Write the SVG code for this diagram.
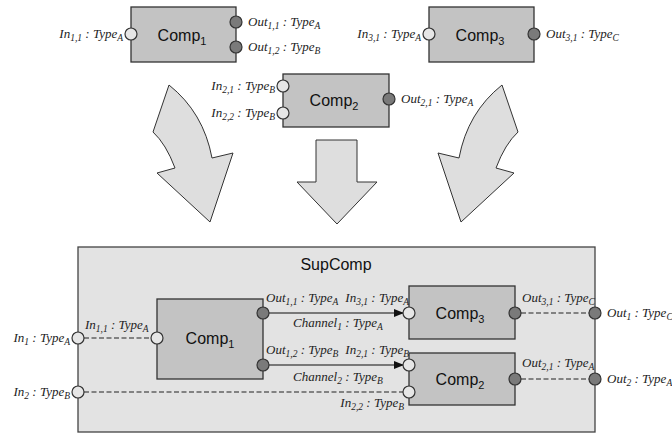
<svg xmlns="http://www.w3.org/2000/svg" width="672" height="435" viewBox="0 0 672 435">
<style>
.comp{fill:#c3c3c3;stroke:#333;stroke-width:1.3}
.sup{fill:#e3e3e3;stroke:#444;stroke-width:1.3}
.pin{fill:#e6e6e6;stroke:#333;stroke-width:1.2}
.pout{fill:#7a7a7a;stroke:#333;stroke-width:1.2}
.arrow{fill:#dedede;stroke:#333;stroke-width:1}
.lbl{font-family:"Liberation Serif",serif;font-style:italic;font-size:13px;fill:#222}
.name{font-family:"Liberation Sans",sans-serif;font-size:16px;fill:#111}
.sub{font-size:9.5px}
.nsub{font-size:11px}
.dash{stroke:#222;stroke-width:1.1;stroke-dasharray:5,2.5;fill:none}
.solid{stroke:#555;stroke-width:1.6;fill:none}
</style>
<defs>
<marker id="ah" markerWidth="10" markerHeight="8" refX="9" refY="4" orient="auto" markerUnits="userSpaceOnUse">
<path d="M0,0 L10,4 L0,8 Z" fill="#111"/>
</marker>
</defs>

<g id="big-arrows">
<path class="arrow" d="M169,85 Q203.5,112.5 212,158 L233,153 L210,222 L157,173 L175,168 Q166,144 153,132 Z"/>
<path class="arrow" transform="translate(671,0) scale(-1,1)" d="M169,85 Q203.5,112.5 212,158 L233,153 L210,222 L157,173 L175,168 Q166,144 153,132 Z"/>
<path class="arrow" d="M316,140 L357,140 L357,182 L377,182 L337,224 L297,182 L316,182 Z"/>
</g>

<g id="top-comp1">
<rect class="comp" x="131" y="7" width="105" height="55"/>
<text class="name" x="182" y="41" text-anchor="middle">Comp<tspan class="nsub" dy="4">1</tspan></text>
<circle class="pin" cx="131" cy="34" r="6"/>
<circle class="pout" cx="236" cy="22" r="6"/>
<circle class="pout" cx="236" cy="47" r="6"/>
<text class="lbl" x="123" y="38" text-anchor="end">In<tspan class="sub" dy="3">1,1</tspan><tspan dy="-3"> : Type</tspan><tspan class="sub" dy="3">A</tspan></text>
<text class="lbl" x="248" y="26">Out<tspan class="sub" dy="3">1,1</tspan><tspan dy="-3"> : Type</tspan><tspan class="sub" dy="3">A</tspan></text>
<text class="lbl" x="248" y="51">Out<tspan class="sub" dy="3">1,2</tspan><tspan dy="-3"> : Type</tspan><tspan class="sub" dy="3">B</tspan></text>
</g>

<g id="top-comp3">
<rect class="comp" x="429" y="7" width="105" height="55"/>
<text class="name" x="480" y="41" text-anchor="middle">Comp<tspan class="nsub" dy="4">3</tspan></text>
<circle class="pin" cx="429" cy="34" r="6"/>
<circle class="pout" cx="534" cy="34" r="6"/>
<text class="lbl" x="421" y="38" text-anchor="end">In<tspan class="sub" dy="3">3,1</tspan><tspan dy="-3"> : Type</tspan><tspan class="sub" dy="3">A</tspan></text>
<text class="lbl" x="546" y="38">Out<tspan class="sub" dy="3">3,1</tspan><tspan dy="-3"> : Type</tspan><tspan class="sub" dy="3">C</tspan></text>
</g>

<g id="top-comp2">
<rect class="comp" x="283" y="74" width="106" height="53"/>
<text class="name" x="334" y="106" text-anchor="middle">Comp<tspan class="nsub" dy="4">2</tspan></text>
<circle class="pin" cx="283" cy="86" r="6"/>
<circle class="pin" cx="283" cy="113" r="6"/>
<circle class="pout" cx="389" cy="99" r="6"/>
<text class="lbl" x="275" y="90" text-anchor="end">In<tspan class="sub" dy="3">2,1</tspan><tspan dy="-3"> : Type</tspan><tspan class="sub" dy="3">B</tspan></text>
<text class="lbl" x="275" y="117" text-anchor="end">In<tspan class="sub" dy="3">2,2</tspan><tspan dy="-3"> : Type</tspan><tspan class="sub" dy="3">B</tspan></text>
<text class="lbl" x="401" y="103">Out<tspan class="sub" dy="3">2,1</tspan><tspan dy="-3"> : Type</tspan><tspan class="sub" dy="3">A</tspan></text>
</g>

<g id="supcomp">
<rect class="sup" x="78" y="247" width="517" height="185"/>
<text class="name" x="336" y="270" text-anchor="middle">SupComp</text>
</g>

<g id="connectors">
<line class="dash" x1="84" y1="338" x2="151" y2="338"/>
<line class="dash" x1="84" y1="392" x2="403" y2="392"/>
<line class="solid" x1="269" y1="313" x2="403" y2="313" marker-end="url(#ah)"/>
<line class="solid" x1="269" y1="365" x2="403" y2="365" marker-end="url(#ah)"/>
<line class="dash" x1="521" y1="313" x2="589" y2="313"/>
<line class="dash" x1="521" y1="379" x2="589" y2="379"/>
<text class="lbl" x="338" y="327" text-anchor="middle">Channel<tspan class="sub" dy="3">1</tspan><tspan dy="-3"> : Type</tspan><tspan class="sub" dy="3">A</tspan></text>
<text class="lbl" x="338" y="381" text-anchor="middle">Channel<tspan class="sub" dy="3">2</tspan><tspan dy="-3"> : Type</tspan><tspan class="sub" dy="3">B</tspan></text>
</g>

<g id="sup-ports">
<circle class="pin" cx="78" cy="338" r="6"/>
<circle class="pin" cx="78" cy="392" r="6"/>
<circle class="pout" cx="595" cy="313" r="6"/>
<circle class="pout" cx="595" cy="379" r="6"/>
<text class="lbl" x="70" y="342" text-anchor="end">In<tspan class="sub" dy="3">1</tspan><tspan dy="-3"> : Type</tspan><tspan class="sub" dy="3">A</tspan></text>
<text class="lbl" x="70" y="396" text-anchor="end">In<tspan class="sub" dy="3">2</tspan><tspan dy="-3"> : Type</tspan><tspan class="sub" dy="3">B</tspan></text>
<text class="lbl" x="607" y="317">Out<tspan class="sub" dy="3">1</tspan><tspan dy="-3"> : Type</tspan><tspan class="sub" dy="3">C</tspan></text>
<text class="lbl" x="607" y="383">Out<tspan class="sub" dy="3">2</tspan><tspan dy="-3"> : Type</tspan><tspan class="sub" dy="3">A</tspan></text>
</g>

<g id="inner-comp1">
<rect class="comp" x="157" y="299" width="106" height="80"/>
<text class="name" x="210" y="344" text-anchor="middle">Comp<tspan class="nsub" dy="4">1</tspan></text>
<circle class="pin" cx="157" cy="338" r="6"/>
<circle class="pout" cx="263" cy="313" r="6"/>
<circle class="pout" cx="263" cy="365" r="6"/>
<text class="lbl" x="85" y="329">In<tspan class="sub" dy="3">1,1</tspan><tspan dy="-3"> : Type</tspan><tspan class="sub" dy="3">A</tspan></text>
<text class="lbl" x="266" y="302">Out<tspan class="sub" dy="3">1,1</tspan><tspan dy="-3"> : Type</tspan><tspan class="sub" dy="3">A</tspan></text>
<text class="lbl" x="266" y="354">Out<tspan class="sub" dy="3">1,2</tspan><tspan dy="-3"> : Type</tspan><tspan class="sub" dy="3">B</tspan></text>
</g>

<g id="inner-comp3">
<rect class="comp" x="409" y="286" width="106" height="53"/>
<text class="name" x="460" y="319" text-anchor="middle">Comp<tspan class="nsub" dy="4">3</tspan></text>
<circle class="pin" cx="409" cy="313" r="6"/>
<circle class="pout" cx="515" cy="313" r="6"/>
<text class="lbl" x="409" y="302" text-anchor="end">In<tspan class="sub" dy="3">3,1</tspan><tspan dy="-3"> : Type</tspan><tspan class="sub" dy="3">A</tspan></text>
<text class="lbl" x="522" y="302">Out<tspan class="sub" dy="3">3,1</tspan><tspan dy="-3"> : Type</tspan><tspan class="sub" dy="3">C</tspan></text>
</g>

<g id="inner-comp2">
<rect class="comp" x="409" y="353" width="106" height="52"/>
<text class="name" x="460" y="385" text-anchor="middle">Comp<tspan class="nsub" dy="4">2</tspan></text>
<circle class="pin" cx="409" cy="365" r="6"/>
<circle class="pin" cx="409" cy="392" r="6"/>
<circle class="pout" cx="515" cy="379" r="6"/>
<text class="lbl" x="409" y="354" text-anchor="end">In<tspan class="sub" dy="3">2,1</tspan><tspan dy="-3"> : Type</tspan><tspan class="sub" dy="3">B</tspan></text>
<text class="lbl" x="404" y="407" text-anchor="end">In<tspan class="sub" dy="3">2,2</tspan><tspan dy="-3"> : Type</tspan><tspan class="sub" dy="3">B</tspan></text>
<text class="lbl" x="522" y="367">Out<tspan class="sub" dy="3">2,1</tspan><tspan dy="-3"> : Type</tspan><tspan class="sub" dy="3">A</tspan></text>
</g>
</svg>
